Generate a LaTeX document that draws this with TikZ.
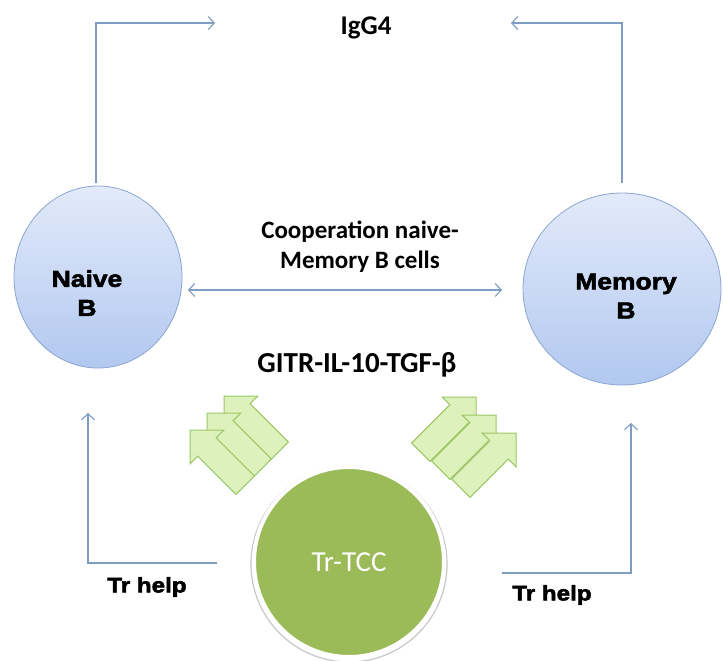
\documentclass[tikz,border=0pt]{standalone}
\usepackage{fontspec}
\setmainfont{Carlito}
\newfontfamily\arialb[FakeStretch=1.15, BoldFeatures={FakeBold=2.5}]{Liberation Sans}
\usetikzlibrary{arrows.meta,shapes.geometric}
\definecolor{lineblue}{HTML}{7F9CC2}
\definecolor{ellborder}{HTML}{8CA5D2}
\definecolor{elltop}{HTML}{E2EAFA}
\definecolor{ellbot}{HTML}{B2C8F0}
\definecolor{tccgreen}{HTML}{9BBB59}
\definecolor{garrowfill}{HTML}{DDF1BC}
\definecolor{garrowdraw}{HTML}{9DC766}
\newcommand\greenarrow[3]{%
  \begin{scope}[shift={(#1,#2)},rotate=#3]
    \path[garrow] (0,0) -- (-24,-24) -- (-24,-13) -- (-78,-13) -- (-78,13) -- (-24,13) -- (-24,24) -- cycle;
  \end{scope}}
\begin{document}
\begin{tikzpicture}[x=1pt,y=-1pt,
  conn/.style={draw=lineblue, line width=1.1pt},
  arrowend/.style={-{Straight Barb[length=6pt,width=13pt,line width=1.1pt]}},
  botharrows/.style={{Straight Barb[length=6pt,width=13pt,line width=1.1pt]}-{Straight Barb[length=6pt,width=13pt,line width=1.1pt]}},
  bcell/.style={ellipse, draw=ellborder, line width=0.8pt, top color=elltop, bottom color=ellbot, inner sep=0pt},
  celltext/.style={font=\arialb\bfseries\fontsize{23}{29}\selectfont, align=center, text=black},
  helptext/.style={font=\arialb\bfseries\fontsize{21}{24}\selectfont, text=black},
  caltext/.style={font=\bfseries\fontsize{25}{30}\selectfont, align=center, text=black},
  garrow/.style={draw=garrowdraw, line width=1pt, fill=garrowfill}
  ]
\useasboundingbox[fill=white] (0,0) rectangle (723,661);

% B cells
\node[bcell, minimum width=168pt, minimum height=182pt] (naive) at (98,277) {};
\node[bcell, minimum width=198pt, minimum height=192pt] (memory) at (622,289) {};
\node[celltext] (naivetxt) at (87,293) {Naive\\B};
\node[celltext] (memtxt) at (626,296) {Memory\\B};

% IgG4
\node[font=\bfseries\fontsize{27}{30}\selectfont] (igg) at (366,28) {IgG4};
\coordinate (nup) at (96,183);
\coordinate (ntop) at (96,23);
\coordinate (nend) at (215,23);
\coordinate (mup) at (622,183);
\coordinate (mtop) at (622,23);
\coordinate (mend) at (511,23);
\draw[conn, arrowend] (nup) -- (ntop) -- (nend);
\draw[conn, arrowend] (mup) -- (mtop) -- (mend);

% cooperation
\node[caltext] (coop) at (360,247) {Cooperation naive-\\Memory B cells};
\coordinate (cl) at (188,290);
\coordinate (cr) at (502,290);
\draw[conn, botharrows] (cl) -- (cr);

\node[font=\bfseries\fontsize{29}{30}\selectfont] (gitr) at (357,365) {GITR-IL-10-TGF-β};

% green arrows (back to front)
\greenarrow{224}{396}{135}
\greenarrow{207}{413}{135}
\greenarrow{190}{430}{135}
\greenarrow{476}{397}{45}
\greenarrow{496}{415}{45}
\greenarrow{516}{433}{45}

% Tr-TCC
\draw[black!22, line width=1.2pt] (349,564) circle[radius=98];
\node[circle, fill=tccgreen, draw=white, line width=4pt, minimum size=190pt, inner sep=0pt,
      font=\fontsize{29}{30}\selectfont, text=white] (tcc) at (349,562) {Tr-TCC};

% Tr help
\coordinate (lh) at (217,563);
\coordinate (lc) at (88,563);
\coordinate (lt) at (88,413);
\draw[conn, arrowend] (lh) -- (lc) -- (lt);
\node[helptext] (lhelp) at (147,587) {Tr help};
\coordinate (rh) at (502,573);
\coordinate (rc) at (631,573);
\coordinate (rt) at (631,423);
\draw[conn, arrowend] (rh) -- (rc) -- (rt);
\node[helptext] (rhelp) at (552,595) {Tr help};
\end{tikzpicture}
\end{document}
